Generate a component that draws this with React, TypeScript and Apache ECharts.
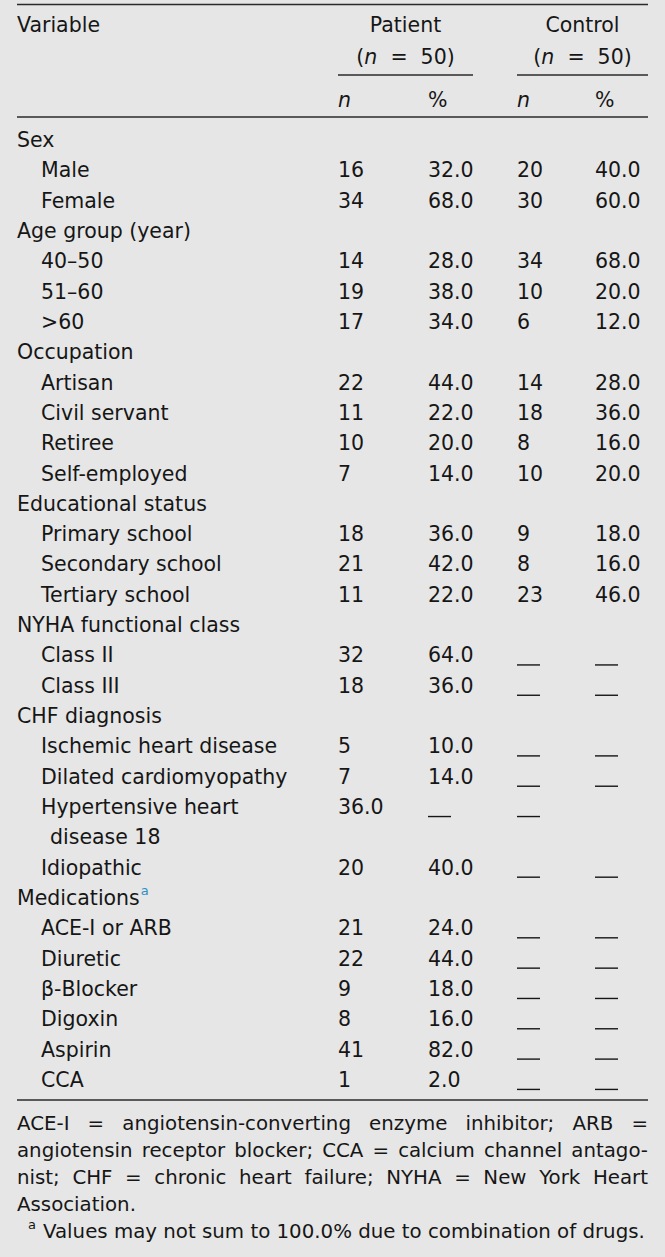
import React, { useEffect, useRef } from "react";
import * as echarts from "echarts";

const rowLabels = [
  "Sex", "Male", "Female",
  "Age group (year)", "40\u201350", "51\u201360", ">60",
  "Occupation", "Artisan", "Civil servant", "Retiree", "Self-employed",
  "Educational status", "Primary school", "Secondary school", "Tertiary school",
  "NYHA functional class", "Class II", "Class III",
  "CHF diagnosis", "Ischemic heart disease", "Dilated cardiomyopathy", "Hypertensive heart", "disease 18", "Idiopathic",
  "Medications", "ACE-I or ARB", "Diuretic", "\u03b2-Blocker", "Digoxin", "Aspirin", "CCA",
];
const rowIndent = [0, 1, 1, 0, 1, 1, 1, 0, 1, 1, 1, 1, 0, 1, 1, 1, 0, 1, 1, 0, 1, 1, 1, 2, 1, 0, 1, 1, 1, 1, 1, 1];
const supRows = ["Medications"];
// "-" marks a blank dash cell; "" marks an empty cell
const patientN = ["", "16", "34", "", "14", "19", "17", "", "22", "11", "10", "7", "", "18", "21", "11", "", "32", "18", "", "5", "7", "36.0", "", "20", "", "21", "22", "9", "8", "41", "1"];
const patientPct = ["", "32.0", "68.0", "", "28.0", "38.0", "34.0", "", "44.0", "22.0", "20.0", "14.0", "", "36.0", "42.0", "22.0", "", "64.0", "36.0", "", "10.0", "14.0", "-", "", "40.0", "", "24.0", "44.0", "18.0", "16.0", "82.0", "2.0"];
const controlN = ["", "20", "30", "", "34", "10", "6", "", "14", "18", "8", "10", "", "9", "8", "23", "", "-", "-", "", "-", "-", "-", "", "-", "", "-", "-", "-", "-", "-", "-"];
const controlPct = ["", "40.0", "60.0", "", "68.0", "20.0", "12.0", "", "28.0", "36.0", "16.0", "20.0", "", "18.0", "16.0", "46.0", "", "-", "-", "", "-", "-", "", "", "-", "", "-", "-", "-", "-", "-", "-"];
const groupHeaders = ["Patient", "Control"];
const groupSizes = ["50", "50"];
const subHeaders = ["n", "%", "n", "%"];
const footnoteLines = [
  "ACE-I = angiotensin-converting enzyme inhibitor; ARB =",
  "angiotensin receptor blocker; CCA = calcium channel antago-",
  "nist; CHF = chronic heart failure; NYHA = New York Heart",
];
const footnoteLast = "Association.";
const footnoteSup = "Values may not sum to 100.0% due to combination of drugs.";

const FONT = "'DejaVu Sans'";
const FS = 20.5;
const FFS = 19.8;
const TXT = "#161616";
const LINE = "#2a2a2a";
const BG = "#e6e6e6";

export default function App() {
  const ref = useRef<HTMLDivElement>(null);
  useEffect(() => {
    document.body.style.margin = "0";
    const chart = echarts.init(ref.current!, null, { renderer: "svg" });
    const cv = document.createElement("canvas").getContext("2d")!;
    const measure = (s: string, size = FS) => {
      cv.font = `${size}px ${FONT}`;
      return cv.measureText(s).width;
    };
    const els: any[] = [];
    const text = (x: number, y: number, s: string, extra: any = {}) => {
      els.push({
        type: "text", x, y, silent: true,
        style: { text: s, fill: TXT, font: `${FS}px ${FONT}`, textAlign: "left", textVerticalAlign: "middle", ...extra },
      });
    };
    const hline = (x1: number, x2: number, y: number, w = 1.5) => {
      els.push({ type: "line", silent: true, shape: { x1, y1: y, x2, y2: y }, style: { stroke: LINE, lineWidth: w } });
    };
    const L = 17, R = 648;
    const colX = [338, 428, 517, 595];
    const groupSpan = [[338, 473], [517, 648]];

    // rules
    hline(L, R, 4.5, 1.6);
    hline(groupSpan[0][0], groupSpan[0][1], 75, 1.3);
    hline(groupSpan[1][0], groupSpan[1][1], 75, 1.3);
    hline(L, R, 117, 1.6);
    hline(L, R, 1100, 1.6);

    // header
    text(L, 25, "Variable");
    groupHeaders.forEach((g, i) => {
      const cx = (groupSpan[i][0] + groupSpan[i][1]) / 2;
      text(cx, 25, g, { textAlign: "center" });
      els.push({
        type: "text", x: cx, y: 57, silent: true,
        style: {
          text: `({i|n}  =  ${groupSizes[i]})`, fill: TXT, font: `${FS}px ${FONT}`,
          textAlign: "center", textVerticalAlign: "middle",
          rich: { i: { fontStyle: "italic", fontSize: FS, fontFamily: "DejaVu Sans", fill: TXT } },
        },
      });
    });
    subHeaders.forEach((s, i) => {
      text(colX[i], 100, s, s === "n" ? { font: `italic ${FS}px ${FONT}` } : {});
    });

    // body
    const y0 = 140, dy = 30.32;
    const indentX = [L, 41, 50];
    const cellCols = [patientN, patientPct, controlN, controlPct];
    rowLabels.forEach((lab, r) => {
      const y = y0 + r * dy;
      const x = indentX[rowIndent[r]];
      text(x, y, lab);
      if (supRows.includes(lab)) {
        text(x + measure(lab) + 1, y - 8, "a", { font: `13px ${FONT}`, fill: "#2f8fc4" });
      }
      cellCols.forEach((col, c) => {
        const v = col[r];
        if (!v) return;
        if (v === "-") {
          els.push({ type: "line", silent: true, shape: { x1: colX[c], y1: y + 9.5, x2: colX[c] + 23, y2: y + 9.5 }, style: { stroke: TXT, lineWidth: 1.4 } });
        } else {
          text(colX[c], y, v);
        }
      });
    });

    // footnote (justified)
    const fy0 = 1123, fdy = 27.2;
    footnoteLines.forEach((line, i) => {
      const words = line.split(" ");
      const widths = words.map((w) => measure(w, FFS));
      const total = widths.reduce((a, b) => a + b, 0);
      const gap = (R - L - total) / (words.length - 1);
      let x = L;
      words.forEach((w, k) => {
        text(x, fy0 + i * fdy, w, { font: `${FFS}px ${FONT}` });
        x += widths[k] + gap;
      });
    });
    text(L, fy0 + 3 * fdy, footnoteLast, { font: `${FFS}px ${FONT}` });
    text(28, fy0 + 4 * fdy - 7, "a", { font: `13px ${FONT}` });
    text(43, fy0 + 4 * fdy, footnoteSup, { font: `${FFS}px ${FONT}` });

    chart.setOption({
      animation: false,
      backgroundColor: BG,
      graphic: { elements: els },
    });
    return () => chart.dispose();
  }, []);
  return <div ref={ref} style={{ width: 665, height: 1257 }} />;
}
